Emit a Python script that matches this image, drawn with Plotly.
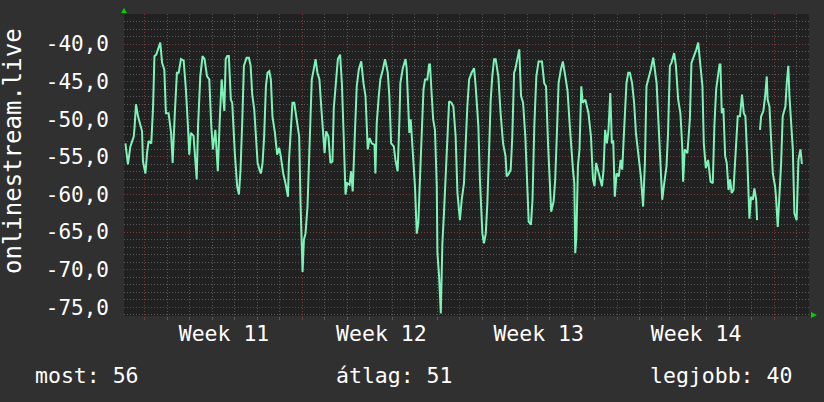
import plotly.graph_objects as go

# ---------------- data ----------------
series_name = "onlinestream.live"

days = [
    # week 10 tail / week 11
    -0.87, -0.76, -0.65, -0.50, -0.46, -0.40, -0.31, -0.21, -0.13, -0.09, 0.02, 0.09, 0.16, 0.28, 0.36, 0.42, 0.50,
    0.58, 0.68, 0.76, 0.86, 0.93, 1.05, 1.16, 1.23, 1.32, 1.42, 1.50, 1.60, 1.72, 1.82, 1.91, 1.97, 2.04, 2.16,
    2.27, 2.30, 2.36, 2.46, 2.56, 2.65, 2.76, 2.86, 2.95, 3.02, 3.13, 3.20, 3.24, 3.32,
    3.41, 3.53, 3.59, 3.66, 3.73, 3.82, 3.88, 4.00, 4.10, 4.18, 4.25, 4.33, 4.40, 4.52, 4.62, 4.70, 4.77, 4.86,
    4.93, 5.01, 5.11, 5.16, 5.23, 5.30, 5.38, 5.45, 5.53, 5.60, 5.67, 5.78, 5.88, 5.97, 6.04, 6.15, 6.25, 6.36,
    6.40, 6.49, 6.56, 6.64, 6.77, 6.86, 6.92, 6.96, 7.01, 7.07, 7.14, 7.23, 7.33, 7.42, 7.48, 7.59, 7.67, 7.75,
    # week 12
    7.76, 7.84, 7.91, 7.99, 8.06, 8.16, 8.25, 8.34, 8.40, 8.50, 8.58, 8.68, 8.76, 8.84, 8.92, 8.99, 9.10, 9.17,
    9.24, 9.35, 9.42, 9.51, 9.62, 9.72, 9.81, 9.91, 9.99, 10.09, 10.21, 10.25, 10.31, 10.40, 10.47, 10.58, 10.68,
    10.80, 10.87, 10.95, 11.07, 11.14, 11.24, 11.32, 11.36, 11.47, 11.59, 11.64, 11.72, 11.76, 11.82, 11.91,
    12.01, 12.09,
    12.16, 12.22, 12.27, 12.31, 12.39, 12.46, 12.56, 12.64, 12.68, 12.74, 12.82, 12.90, 12.98, 13.01, 13.08,
    13.16, 13.23, 13.30, 13.38, 13.45, 13.53, 13.63, 13.72, 13.82, 13.90, 14.01, 14.09, 14.19, 14.27, 14.34,
    # week 13
    14.42, 14.53, 14.64, 14.71, 14.83, 14.90, 15.01, 15.08, 15.16, 15.23, 15.30, 15.38, 15.45, 15.53, 15.60,
    15.72, 15.82, 15.93, 16.04, 16.09, 16.19, 16.27, 16.34, 16.42,
    16.47, 16.55, 16.65, 16.73, 16.82, 16.92, 16.99, 17.07, 17.17, 17.24, 17.32, 17.41, 17.51, 17.66, 17.76,
    17.84, 17.93, 18.00, 18.07, 18.18, 18.25, 18.33, 18.40, 18.50, 18.59, 18.70, 18.80, 18.89, 18.96, 19.04,
    19.10, 19.14, 19.19, 19.26, 19.33, 19.41, 19.47, 19.59, 19.73, 19.84, 19.93, 20.00, 20.07, 20.18, 20.33,
    20.40, 20.47, 20.55, 20.62, 20.70, 20.77,
    20.83, 20.90, 20.98, 21.08, 21.16, 21.23, 21.30, 21.35, 21.42, 21.50, 21.57, 21.67, 21.76, 21.84, 21.99,
    # week 14
    22.06, 22.16, 22.24, 22.31, 22.42, 22.50, 22.61, 22.68, 22.76, 22.83, 22.87, 22.95, 23.01, 23.10, 23.20,
    23.27, 23.35, 23.42, 23.54, 23.62, 23.72, 23.82, 23.90, 23.94, 24.01, 24.13, 24.24, 24.31, 24.43, 24.53,
    24.61, 24.68, 24.80, 24.86, 24.95, 25.05, 25.16,
    25.26, 25.33, 25.41, 25.48, 25.56, 25.60, 25.66, 25.73, 25.81, 25.88, 25.96, 26.03, 26.10, 26.18, 26.27,
    26.37, 26.47, 26.56, 26.64, 26.71, 26.79, 26.89, 26.96, 27.04, 27.11, 27.19, 27.23, 27.30, 27.36, 27.41,
    27.51, 27.59, 27.66, 27.70, 27.78, 27.85, 27.93,
    # week 15 start
    28.03, 28.07, 28.15, 28.22, 28.30, 28.37, 28.49, 28.55, 28.62, 28.67, 28.74, 28.82, 28.89, 28.99, 29.07,
    29.16, 29.22, 29.26,
]

values = [
    -53.2, -56.0, -53.6, -52.3, -50.9, -48.0, -49.6, -50.9, -51.6, -55.6, -57.2, -54.5, -52.9, -53.2, -48.3, -41.6, -41.4,
    -40.7, -39.8, -42.5, -43.4, -49.2, -49.2, -51.8, -55.8, -49.6, -43.8, -43.8, -42.0, -42.2, -46.0, -50.9, -54.7, -51.8, -52.2,
    -56.7, -58.0, -50.9, -44.3, -41.6, -42.0, -44.3, -44.7, -50.9, -54.0, -51.4, -54.7, -56.9, -50.5,
    -44.7, -48.9, -42.0, -41.6, -41.6, -47.4, -47.8, -54.7, -58.9, -60.0, -56.7, -50.0, -42.9, -41.8, -41.8, -42.9, -46.7, -48.7,
    -52.3, -55.8, -56.9, -57.2, -55.8, -52.3, -45.6, -43.8, -43.6, -44.7, -49.6, -51.8, -54.7, -53.8, -54.9, -57.2, -58.5, -60.3,
    -55.8, -51.4, -47.8, -47.8, -50.5, -52.3, -61.2, -67.4, -70.3, -66.0, -65.2, -61.6, -52.3, -44.7, -43.8, -42.0, -43.8, -44.7,
    -44.7, -48.3, -50.9, -54.5, -51.6, -52.3, -55.8, -55.6, -48.5, -45.2, -42.0, -41.4, -45.2, -52.3, -60.0, -58.5, -58.7, -56.9,
    -59.6, -50.9, -45.6, -43.4, -42.3, -45.2, -46.9, -54.0, -52.5, -53.2, -53.4, -57.2, -50.5, -46.9, -44.7, -43.4, -42.0,
    -43.8, -46.9, -53.2, -53.6, -55.4, -56.9, -50.0, -45.2, -43.2, -42.0, -43.2, -50.0, -51.8, -50.0, -54.5,
    -58.9, -65.2,
    -63.8, -58.9, -54.5, -50.5, -46.0, -44.7, -44.7, -42.7, -42.7, -46.0, -50.0, -51.4, -58.9, -67.8, -70.7,
    -75.8, -66.5, -62.5, -57.6, -53.6, -47.6, -47.8, -48.3, -52.3, -59.8, -63.4, -60.7, -58.5, -52.7, -48.3,
    -44.7, -43.8, -43.2, -45.6, -50.9, -58.0, -65.2, -66.5, -65.2, -61.2, -54.9, -47.4, -44.3, -42.0, -42.0,
    -44.3, -49.2, -53.2, -54.9, -57.6, -57.2, -56.7, -52.3, -43.8,
    -43.4, -42.0, -40.7, -46.9, -47.8, -52.3, -58.9, -63.6, -64.0, -60.7, -50.9, -44.3, -42.3, -42.3, -45.2,
    -45.6, -53.2, -57.6, -62.3, -60.9, -58.0, -51.4, -45.2, -43.4, -42.3, -44.3, -46.3, -50.5, -54.0, -56.7,
    -58.5, -67.8, -65.6, -56.3, -54.0, -45.6, -47.8, -47.4, -49.2, -52.3, -58.0, -58.9, -55.8, -57.2, -58.9,
    -56.7, -51.4, -53.2, -51.4, -46.5, -53.2,
    -52.8, -60.3, -57.2, -57.6, -55.4, -56.7, -52.3, -48.3, -45.2, -43.8, -43.8, -45.2, -47.8, -51.8, -55.8,
    -57.6, -61.6, -55.8, -45.6, -44.5, -43.4, -41.8, -43.4, -45.2, -49.6, -52.3, -58.5, -60.7, -58.5, -56.3,
    -51.8, -42.9, -42.5, -41.2, -42.9, -47.4, -49.2, -53.6, -58.3, -54.0, -54.5, -50.0, -42.5, -41.6, -40.7,
    -39.8, -42.3, -45.6, -53.2, -56.5, -55.4, -58.3,
    -58.5, -50.9, -46.0, -44.7, -42.7, -42.7, -49.2, -48.5, -54.9, -55.8, -59.4, -58.0, -59.8, -59.4, -54.0,
    -49.6, -49.6, -46.7, -49.2, -49.6, -54.9, -63.2, -60.3, -60.7, -59.2, -60.7, -63.4, None, -51.4, -49.6,
    -48.9, -46.9, -44.3, -47.4, -48.3, -53.2, -57.2,
    -58.9, -60.3, -64.3, -60.3, -55.8, -49.6, -48.3, -45.2, -42.9, -46.9, -50.0, -54.0, -62.5, -63.4, -55.4,
    -54.0, -55.8, -55.8,
]

week_starts = [0, 7, 14, 21, 28]
week_labels = ["Week 11", "Week 12", "Week 13", "Week 14", ""]
y_ticks = [-75, -70, -65, -60, -55, -50, -45, -40]
y_tick_labels = ["-75,0", "-70,0", "-65,0", "-60,0", "-55,0", "-50,0", "-45,0", "-40,0"]
legend_names = ["most", "átlag", "legjobb"]
legend_values = [56, 51, 40]

assert len(days) == len(values), (len(days), len(values))

# ---------------- layout constants ----------------
W, H = 824, 402
L, R, T, B = 124, 15, 14, 86
PW, PH = W - L - R, H - T - B
X_RANGE = [-0.934, 29.54]
Y_RANGE = [-76.15, -36.0]
FONT = "DejaVu Sans Mono"
BG = "#303030"
PLOT_BG = "#212121"
MINOR_GRID = "#585858"
MAJOR_GRID = "#7a3a3a"
LINE = "#7cf4b8"


def px(x):
    return (x - L) / PW


def py(y):
    return (H - B - y) / PH


day_px = PW / (X_RANGE[1] - X_RANGE[0])

fig = go.Figure()
fig.add_trace(go.Scatter(
    x=days, y=values, mode="lines", name=series_name,
    line=dict(color=LINE, width=2), connectgaps=False, hoverinfo="skip",
))

fig.update_layout(
    width=W, height=H,
    margin=dict(l=L, r=R, t=T, b=B, pad=0),
    paper_bgcolor=BG, plot_bgcolor=PLOT_BG,
    showlegend=False,
    font=dict(family=FONT, color="#ffffff", size=21),
    xaxis=dict(
        range=X_RANGE, fixedrange=True,
        tickmode="array", tickvals=week_starts, ticktext=week_labels,
        ticklabelshift=int(round(3.5 * day_px)), ticklabelstandoff=-5,
        showgrid=True, gridcolor=MAJOR_GRID, griddash="1px,2px", gridwidth=1,
        ticks="outside", ticklen=3, tickcolor=MAJOR_GRID,
        tickfont=dict(family=FONT, size=21.5, color="#ffffff"),
        zeroline=False, showline=False,
        minor=dict(tickmode="linear", tick0=0, dtick=1, showgrid=True,
                   gridcolor=MINOR_GRID, griddash="1px,2px", gridwidth=1,
                   ticks="outside", ticklen=3, tickcolor=MINOR_GRID),
    ),
    yaxis=dict(
        range=Y_RANGE, fixedrange=True,
        tickmode="array", tickvals=y_ticks, ticktext=y_tick_labels,
        showgrid=True, gridcolor=MAJOR_GRID, griddash="1px,2px", gridwidth=1,
        ticks="", ticklabelstandoff=14,
        tickfont=dict(family=FONT, size=21, color="#ffffff"),
        zeroline=False, showline=False,
        minor=dict(tickmode="linear", tick0=0, dtick=1, showgrid=True,
                   gridcolor=MINOR_GRID, griddash="1px,2px", gridwidth=1),
    ),
)

annotations = [
    dict(text=series_name, textangle=-90, xref="paper", yref="paper",
         x=px(13), y=py(151), xanchor="center", yanchor="middle", showarrow=False,
         font=dict(family=FONT, size=24, color="#ffffff")),
]
legend_x = [33, 334, 648]
for name, val, lx in zip(legend_names, legend_values, legend_x):
    annotations.append(dict(
        text=f"{name}: {val}", xref="paper", yref="paper",
        x=px(lx), y=py(376), xanchor="left", yanchor="middle", showarrow=False,
        font=dict(family=FONT, size=21.5, color="#ffffff")))
fig.update_layout(annotations=annotations)

shapes = [
    dict(type="path", xref="paper", yref="paper",
         path=f"M {px(121)} {py(13)} L {px(127)} {py(13)} L {px(124)} {py(8)} Z",
         fillcolor="#00d000", line=dict(width=0)),
    dict(type="path", xref="paper", yref="paper",
         path=f"M {px(811)} {py(312)} L {px(811)} {py(318)} L {px(817)} {py(315)} Z",
         fillcolor="#00d000", line=dict(width=0)),
]
fig.update_layout(shapes=shapes)

fig.write_html(
    "out.html",
    config={"displayModeBar": False, "staticPlot": True},
    post_script="document.body.style.margin='0';document.body.style.overflow='hidden';",
)
